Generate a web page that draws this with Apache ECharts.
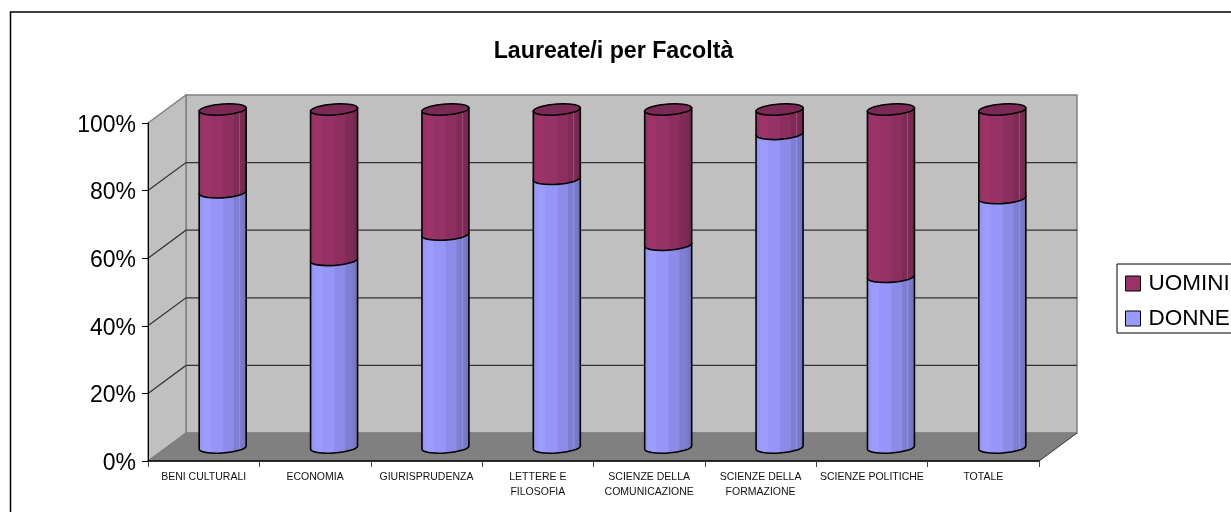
<!DOCTYPE html>
<html>
<head>
<meta charset="utf-8">
<title>Laureate/i per Facoltà</title>
<style>
html, body { margin: 0; padding: 0; background: #fff; }
#chart { width: 1231px; height: 512px; }
</style>
<script src="https://cdn.jsdelivr.net/npm/echarts@6/dist/echarts.min.js"></script>
</head>
<body>
<div id="chart"></div>
<script>
var categories = ['BENI CULTURALI', 'ECONOMIA', 'GIURISPRUDENZA', 'LETTERE E\nFILOSOFIA',
	'SCIENZE DELLA\nCOMUNICAZIONE', 'SCIENZE DELLA\nFORMAZIONE', 'SCIENZE POLITICHE', 'TOTALE'];
var donne = [75.5, 55.5, 63, 79.5, 60, 92.8, 50.5, 73.8];
var uomini = [24.5, 44.5, 37, 20.5, 40, 7.2, 49.5, 26.2];
var yTicks = [20, 40, 60, 80];

var fontName = '"Liberation Sans", Arial, sans-serif';
var depthX = 38, depthY = 28;   // offset of the back wall from the front plane

// stripes of the fake 3d cylinder, left to right
function shade(c) {
	return {
		type: 'linear', x: 0, y: 0, x2: 1, y2: 0,
		colorStops: [
			{ offset: 0, color: c[0] }, { offset: 0.12, color: c[1] },
			{ offset: 0.25, color: c[1] }, { offset: 0.26, color: c[2] },
			{ offset: 0.5, color: c[2] }, { offset: 0.52, color: c[3] },
			{ offset: 0.72, color: c[3] }, { offset: 0.74, color: c[4] },
			{ offset: 0.84, color: c[4] }, { offset: 0.84, color: c[6] },
			{ offset: 0.855, color: c[6] }, { offset: 0.855, color: c[4] },
			{ offset: 1, color: c[5] }
		]
	};
}
var donneShade = shade(['#8f8ff0', '#9c9cff', '#9696f8', '#8c8ce8', '#7e7ed2', '#6f6fb8', '#9090dc']);
var uominiShade = shade(['#8f2f60', '#9c3468', '#973266', '#8c2f5e', '#7f2b55', '#6f264a', '#94506f']);

// walls and floor, taken from the grid rect so they follow the axes
function renderWalls(params, api) {
	var g = params.coordSys;
	var l = g.x, r = g.x + g.width, t = g.y, b = g.y + g.height;
	var grey = { fill: '#c0c0c0', stroke: '#808080', lineWidth: 1.5 };
	var children = [
		{ type: 'polygon', shape: { points: [[l + depthX, t - depthY], [r + depthX, t - depthY], [r + depthX, b - depthY], [l + depthX, b - depthY]] }, style: grey },
		{ type: 'polygon', shape: { points: [[l, t], [l + depthX, t - depthY], [l + depthX, b - depthY], [l, b]] }, style: grey },
		{ type: 'polygon', shape: { points: [[l, b], [l + depthX, b - depthY], [r + depthX, b - depthY], [r, b]] }, style: { fill: '#808080', stroke: '#808080', lineWidth: 1 } },
		{ type: 'line', shape: { x1: r, y1: b, x2: r + depthX, y2: b - depthY }, style: { stroke: '#404040', lineWidth: 1 } }
	];
	yTicks.forEach(function (v) {
		var y = api.coord([0, v])[1];
		children.push({ type: 'polyline', shape: { points: [[l, y], [l + depthX, y - depthY], [r + depthX, y - depthY]] }, style: { fill: null, stroke: '#333', lineWidth: 1.2 } });
	});
	return { type: 'group', children: children };
}

function cylinder(fill, topColor) {
	return function (params, api) {
		var base = api.coord([api.value(0), api.value(1)]);
		var end = api.coord([api.value(0), api.value(2)]);
		var cx = base[0] + depthX / 2;
		var rx = 23.5, ry = 5.5, tilt = 1.5;
		var y0 = base[1] - 13.5, y1 = end[1] - 13.5;
		var x0 = cx - rx, x1 = cx + rx;
		var body = 'M' + x0 + ' ' + (y1 + tilt) + 'L' + x0 + ' ' + (y0 + tilt) +
			'A' + rx + ' ' + ry + ' -4 0 0 ' + x1 + ' ' + (y0 - tilt) +
			'L' + x1 + ' ' + (y1 - tilt) + 'Z';
		var children = [{
			type: 'path',
			shape: { pathData: body },
			style: { fill: fill, stroke: '#000', lineWidth: 1.6 }
		}];
		if (topColor) {
			children.push({
				type: 'path',
				shape: { pathData: 'M' + x0 + ' ' + (y1 + tilt) + 'A' + rx + ' ' + ry + ' -4 1 1 ' + x1 + ' ' + (y1 - tilt) + 'A' + rx + ' ' + ry + ' -4 1 1 ' + x0 + ' ' + (y1 + tilt) + 'Z' },
				style: { fill: topColor, stroke: '#000', lineWidth: 1.6 }
			});
		}
		return { type: 'group', children: children };
	};
}

var donneData = categories.map(function (c, i) { return [i, 0, donne[i]]; });
var uominiData = categories.map(function (c, i) { return [i, donne[i], donne[i] + uomini[i]]; });

var myChart = echarts.init(document.getElementById('chart'));
myChart.setOption({
	animation: false,
	backgroundColor: '#fff',
	textStyle: { fontFamily: fontName },
	title: {
		text: 'Laureate/i per Facoltà',
		left: 608.5, top: 35, textAlign: 'center',
		textStyle: { fontFamily: fontName, fontSize: 23.2, fontWeight: 'bold', color: '#000' }
	},
	graphic: [{
		type: 'polyline',
		shape: { points: [[10.5, 512], [10.5, 12], [1231, 12]] },
		style: { fill: null, stroke: '#000', lineWidth: 1.5 }
	}],
	legend: {
		data: ['UOMINI', 'DONNE'],
		orient: 'vertical',
		left: 1117, top: 264,
		padding: [8, 20, 3, 8],
		itemGap: 12,
		itemWidth: 15, itemHeight: 15,
		icon: 'rect',
		borderColor: '#000', borderWidth: 1,
		backgroundColor: '#fff',
		itemStyle: { borderColor: '#000', borderWidth: 1 },
		textStyle: { fontFamily: fontName, fontSize: 22.5, color: '#000', padding: [0, 0, 0, 3] }
	},
	grid: { left: 148, top: 123, width: 891, height: 338 },
	xAxis: {
		type: 'category',
		data: categories,
		axisLine: { lineStyle: { color: '#000', width: 1.5 } },
		axisTick: { show: true, alignWithLabel: false, length: 6, lineStyle: { color: '#404040', width: 1 } },
		axisLabel: { fontFamily: fontName, fontSize: 10.5, color: '#111', lineHeight: 15, margin: 9, interval: 0 }
	},
	yAxis: {
		type: 'value', min: 0, max: 100, interval: 20,
		axisLine: { show: true, lineStyle: { color: '#000', width: 1 } },
		axisTick: { show: true, length: 6, lineStyle: { color: '#000', width: 1 } },
		splitLine: { show: false },
		axisLabel: {
			formatter: '{a|{value}%}', margin: 12,
			rich: { a: { fontFamily: fontName, fontSize: 23, color: '#000', padding: [5, 0, 0, 0] } }
		}
	},
	series: [
		{ type: 'custom', name: 'walls', silent: true, z: 0, clip: false, data: [[0, 0, 0]], renderItem: renderWalls },
		{ type: 'custom', name: 'DONNE', z: 2, clip: false, itemStyle: { color: '#9999ff' }, encode: { x: 0, y: [1, 2] }, data: donneData, renderItem: cylinder(donneShade) },
		{ type: 'custom', name: 'UOMINI', z: 3, clip: false, itemStyle: { color: '#993366' }, encode: { x: 0, y: [1, 2] }, data: uominiData, renderItem: cylinder(uominiShade, '#7a2a54') }
	]
});
</script>
</body>
</html>
